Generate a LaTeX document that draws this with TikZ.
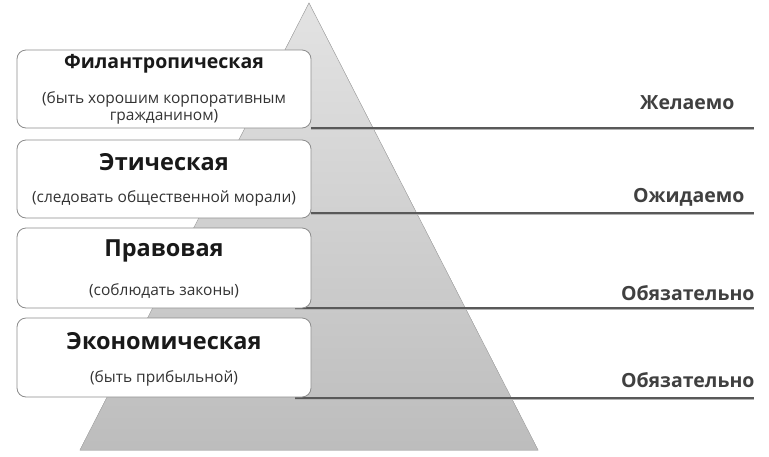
\documentclass[tikz,border=0pt]{standalone}
\usepackage{fontspec}
\setmainfont{Open Sans}
\begin{document}
\begin{tikzpicture}[x=1pt,y=-1pt,
  lvlbox/.style={draw=black!45,fill=white,line width=0.8pt,rounded corners=9pt,
    minimum width=294pt,inner sep=0pt},
  ttl/.style={font=\bfseries\fontsize{23.5}{26}\selectfont,text=black!90},
  ttlsmall/.style={font=\bfseries\fontsize{19.5}{22}\selectfont,text=black!90},
  sub/.style={font=\fontsize{15.5}{17.5}\selectfont,text=black!80,align=center},
  lvl/.style={font=\bfseries\fontsize{19.5}{22}\selectfont,text=black!75,anchor=east},
  rule/.style={draw=black!65,line width=1.8pt},
  ruleshadow/.style={draw=black!30,line width=1.4pt}]
\useasboundingbox (0,0) rectangle (769,456);
\fill[white] (0,0) rectangle (769,456);
% pyramid
\fill[top color=black!11,bottom color=black!26,draw=black!30,line width=0.5pt]
  (309,3) -- (538,450) -- (80,450) -- cycle;
% rule coordinates
\coordinate (r1a) at (311,128); \coordinate (r1b) at (754,128);
\coordinate (r2a) at (311,213); \coordinate (r2b) at (754,213);
\coordinate (r3a) at (295,308); \coordinate (r3b) at (754,308);
\coordinate (r4a) at (295,398); \coordinate (r4b) at (754,398);
\foreach \i in {1,2,3,4}{
  \draw[ruleshadow] ([yshift=-1.6pt]r\i a) -- ([yshift=-1.6pt]r\i b);
  \draw[rule] (r\i a) -- (r\i b);
}
% boxes
\node[lvlbox,minimum height=78pt] (b1) at (164,89) {};
\node[lvlbox,minimum height=78pt] (b2) at (164,179) {};
\node[lvlbox,minimum height=80pt] (b3) at (164,268) {};
\node[lvlbox,minimum height=79pt] (b4) at (164,357.5) {};
% box texts
\node[ttlsmall] (t1) at (164,64) {Филантропическая};
\node[sub] (s1) at (164,108) {(быть хорошим корпоративным\\гражданином)};
\node[ttl] (t2) at (164,162) {Этическая};
\node[sub] (s2) at (164,198) {(следовать общественной морали)};
\node[ttl] (t3) at (164,251) {Правовая};
\node[sub] (s3) at (164,291) {(соблюдать законы)};
\node[ttl] (t4) at (164,341) {Экономическая};
\node[sub] (s4) at (164,378) {(быть прибыльной)};
% right labels
\node[lvl] (l1) at (738,103) {Желаемо};
\node[lvl] (l2) at (748,197) {Ожидаемо};
\node[lvl] (l3) at (758,293) {Обязательно};
\node[lvl] (l4) at (758,380) {Обязательно};
\end{tikzpicture}
\end{document}
